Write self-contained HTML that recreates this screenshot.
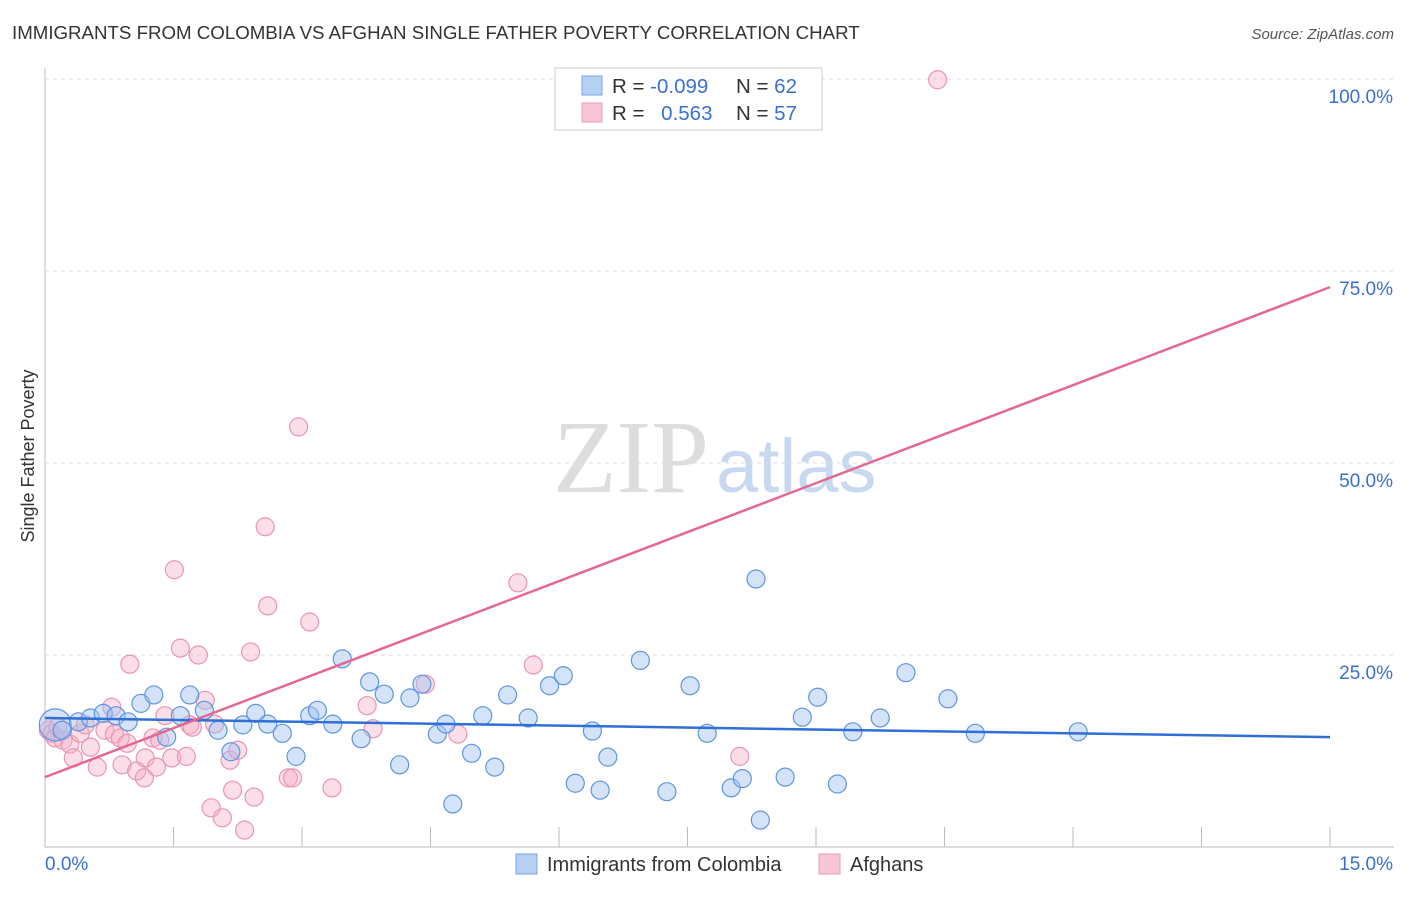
<!DOCTYPE html>
<html><head><meta charset="utf-8"><style>
body{margin:0;background:#fff;font-family:"Liberation Sans",sans-serif}
svg text{font-family:"Liberation Sans",sans-serif}
</style></head><body>
<svg id="c" width="1406" height="892">
<text x="12" y="39" font-size="18.7" fill="#333">IMMIGRANTS FROM COLOMBIA VS AFGHAN SINGLE FATHER POVERTY CORRELATION CHART</text>
<text x="1394" y="39" font-size="15" fill="#555" font-style="italic" text-anchor="end">Source: ZipAtlas.com</text>
<text x="34" y="456" font-size="18" fill="#333" transform="rotate(-90 34 456)" text-anchor="middle">Single Father Poverty</text>
<text x="553" y="492" font-size="104" fill="#ddd" style="font-family:'Liberation Serif',serif">ZIP</text>
<text x="716" y="492" font-size="76" fill="#c8d8f0">atlas</text>
<g id="grid"></g><g id="pts"></g><g id="lines"></g>
<g>
<rect x="555" y="68" width="267" height="62" fill="#fff" stroke="#ccc"/>
<rect x="582" y="76" width="20" height="19" fill="#b6d0f4" stroke="#7aa6e6"/>
<rect x="582" y="103" width="20" height="19" fill="#f9c6d6" stroke="#ec9ab4"/>
<text x="612" y="93" font-size="20.5" fill="#333">R = <tspan fill="#3a70d0">-0.099</tspan></text>
<text x="736" y="93" font-size="20.5" fill="#333">N = <tspan fill="#3a70d0">62</tspan></text>
<text x="612" y="120" font-size="20.5" fill="#333">R = <tspan fill="#3a70d0" dx="11">0.563</tspan></text>
<text x="736" y="120" font-size="20.5" fill="#333">N = <tspan fill="#3a70d0">57</tspan></text>
</g>
<g>
<rect x="516" y="854" width="21" height="20" fill="#b6d0f4" stroke="#7aa6e6"/>
<text x="547" y="871" font-size="20" fill="#333">Immigrants from Colombia</text>
<rect x="819" y="854" width="21" height="20" fill="#f9c6d6" stroke="#ec9ab4"/>
<text x="850" y="871" font-size="20" fill="#333">Afghans</text>
</g>
</svg>
<script>
const blueX=[0.12,0.20,0.39,0.53,0.68,0.83,0.97,1.12,1.27,1.42,1.58,1.69,1.86,2.02,2.17,2.31,2.46,2.60,2.77,2.93,3.09,3.18,3.36,3.47,3.69,3.79,3.96,4.14,4.26,4.40,4.58,4.68,4.76,4.98,5.11,5.25,5.40,5.64,5.89,6.05,6.19,6.39,6.48,6.57,6.95,7.26,7.53,7.73,8.01,8.14,8.30,8.35,8.64,8.84,9.02,9.25,9.43,9.75,10.05,10.54,10.86,12.06];
const blueY=[15.9,15.2,16.3,16.8,17.4,17.1,16.3,18.7,19.8,14.3,17.1,19.8,17.8,15.2,12.4,15.9,17.4,16.0,14.8,11.8,17.1,17.8,16.0,24.5,14.1,21.5,19.9,10.7,19.4,21.2,14.7,16.0,5.6,12.2,17.1,10.4,19.8,16.8,21.0,22.3,8.3,15.1,7.4,11.7,24.3,7.2,21.0,14.8,7.7,8.9,34.9,3.5,9.1,16.9,19.5,8.2,15.0,16.8,22.7,19.3,14.8,15.0];
const pinkX=[0.04,0.08,0.12,0.15,0.21,0.29,0.33,0.41,0.47,0.53,0.61,0.70,0.78,0.81,0.88,0.90,0.96,0.99,1.07,1.16,1.17,1.26,1.30,1.34,1.40,1.48,1.51,1.58,1.65,1.69,1.72,1.79,1.87,1.94,1.98,2.07,2.16,2.19,2.25,2.33,2.40,2.44,2.57,2.60,2.84,2.89,2.96,3.09,3.35,3.76,3.83,4.44,4.82,5.52,5.70,8.11,10.42];
const pinkY=[15.2,14.8,14.2,15.6,13.9,13.4,11.6,14.8,15.9,13.0,10.4,15.2,18.2,14.7,14.2,10.7,13.5,23.8,9.9,9.0,11.6,14.2,10.4,13.9,17.1,11.6,36.1,25.9,11.8,15.9,15.6,25.0,19.1,5.1,16.0,3.8,11.3,7.4,12.6,2.2,25.4,6.5,41.7,31.4,9.0,9.0,54.7,29.3,7.7,18.4,15.4,21.2,14.7,34.4,23.7,11.8,99.9];
const blueTrend=[16.8,14.3];
const pinkTrend=[9.1,72.9];
const yTicks=[25,50,75,100];
const yTickLabels=["25.0%","50.0%","75.0%","100.0%"];
const xTicks=[0,1.5,3,4.5,6,7.5,9,10.5,12,13.5,15];
const NS="http://www.w3.org/2000/svg";
const X0=45,X1=1330,Y0=847,Y100=79;
const sx=v=>X0+(v/15)*(X1-X0);
const sy=v=>Y0-(v/100)*(Y0-Y100);
function mk(t,a,p){const e=document.createElementNS(NS,t);for(const k in a)e.setAttribute(k,a[k]);p.appendChild(e);return e;}
const grid=document.getElementById('grid');
const ax=mk('line',{x1:X0,x2:X0,y1:68,y2:847,stroke:'#bbb'},grid);


const bx=mk('line',{x1:X0,x2:1394,y1:847,y2:847,stroke:'#bbb'},grid);


yTicks.forEach((v,i)=>{
 const g=mk('line',{x1:X0,x2:1394,y1:sy(v),y2:sy(v),stroke:'#ddd','stroke-dasharray':'4,4'},grid);
 
 
 const t=mk('text',{x:1393,y:sy(v)+24,'font-size':19,fill:'#3a70d0','text-anchor':'end'},grid);
 t.textContent=yTickLabels[i];
 
 
});
xTicks.forEach(v=>{
 const l=mk('line',{x1:sx(v),x2:sx(v),y1:827,y2:847,stroke:'#bbb'},grid);
 
 
});
const xl0=mk('text',{x:45,y:870,'font-size':19,fill:'#3a70d0'},grid);xl0.textContent="0.0%";


const xl1=mk('text',{x:1393,y:870,'font-size':19,fill:'#3a70d0','text-anchor':'end'},grid);xl1.textContent="15.0%";


const pts=document.getElementById('pts');
pinkX.forEach((x,i)=>{
 const c=mk('circle',{cx:sx(x),cy:sy(pinkY[i]),r:9,fill:'rgba(246,172,198,0.4)',stroke:'#ec94b2','stroke-width':1.2},pts);
 
 
});
blueX.forEach((x,i)=>{
 const c=mk('circle',{cx:sx(x),cy:sy(blueY[i]),r:i==0?16:9,fill:'rgba(160,194,240,0.45)',stroke:'#5f95e0','stroke-width':1.2},pts);
 
 
});
const lines=document.getElementById('lines');
const bl=mk('line',{x1:sx(0),x2:sx(15),y1:sy(blueTrend[0]),y2:sy(blueTrend[1]),stroke:'#2f6fd6','stroke-width':2.5},lines);


const pl=mk('line',{x1:sx(0),x2:sx(15),y1:sy(pinkTrend[0]),y2:sy(pinkTrend[1]),stroke:'#e4688f','stroke-width':2.5},lines);


</script>
</body></html>
